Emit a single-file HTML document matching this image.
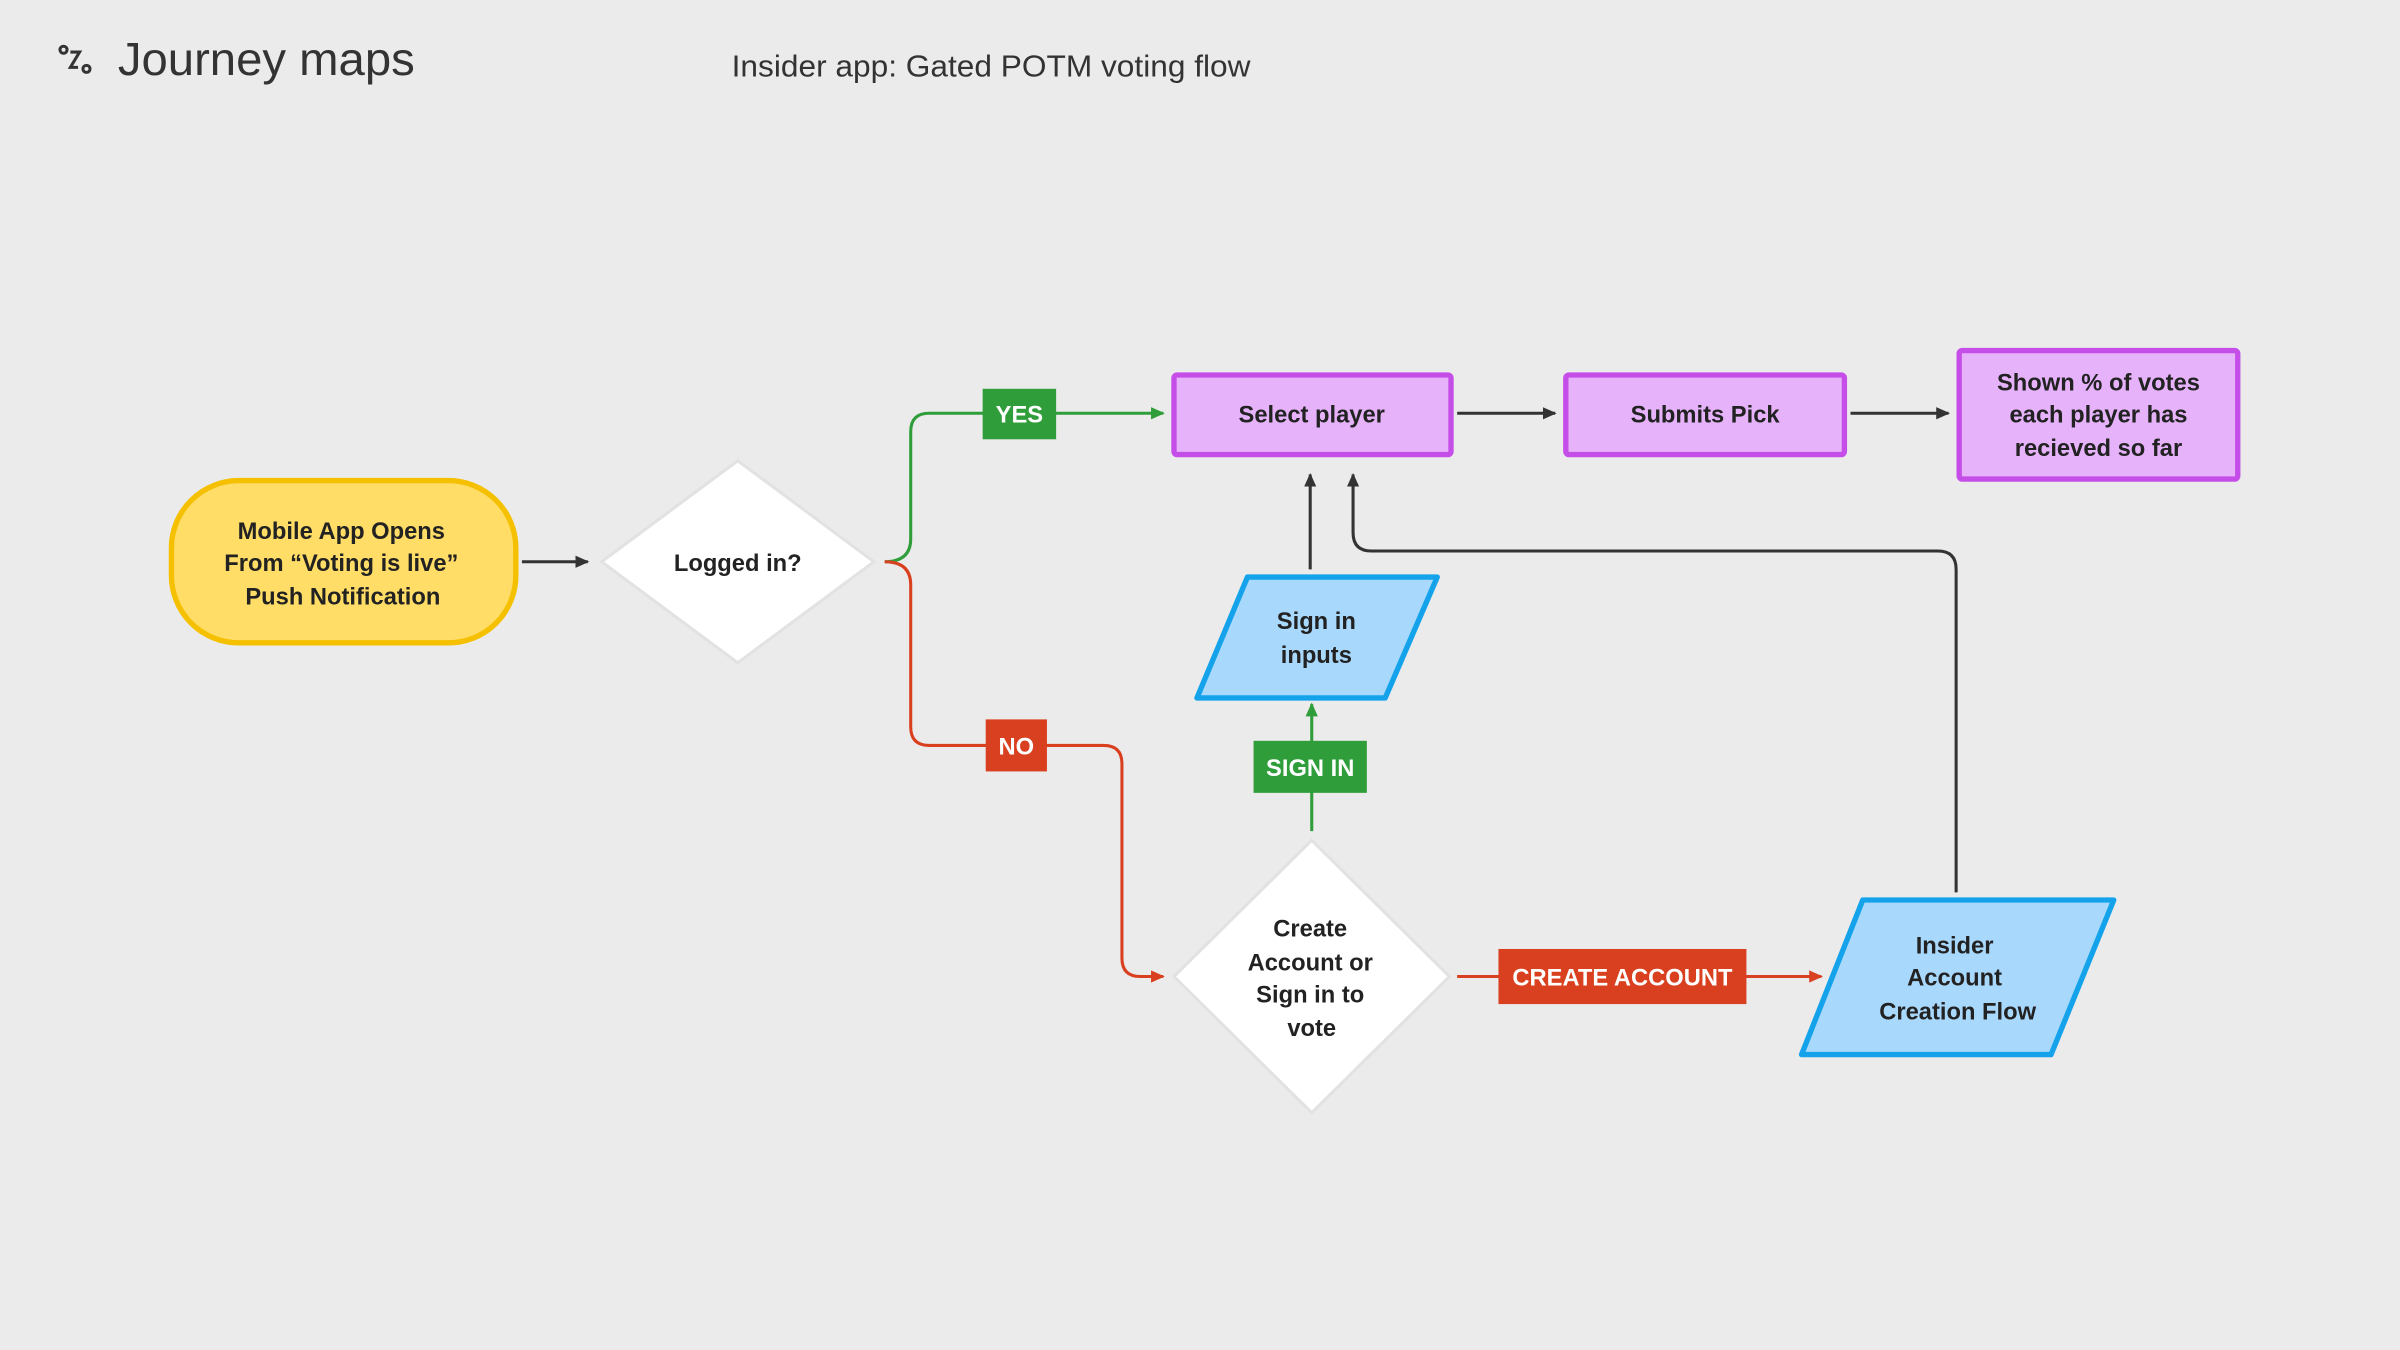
<!DOCTYPE html>
<html><head><meta charset="utf-8"><style>
html,body{margin:0;padding:0;background:#ebebeb;}
svg{display:block;}
text{font-family:"Liberation Sans",sans-serif;}
.b{font-weight:bold;font-size:15.5px;fill:#222;text-anchor:middle;}
.l{font-weight:bold;font-size:15.5px;fill:#fff;text-anchor:middle;}
</style></head><body>
<svg width="2400" height="1350" viewBox="0 0 1568 882" xmlns="http://www.w3.org/2000/svg">
<defs>
<marker id="ad" markerWidth="10" markerHeight="10" refX="8" refY="5" orient="auto" markerUnits="userSpaceOnUse"><path d="M0,1 L9,5 L0,9 z" fill="#333"/></marker>
<marker id="ag" markerWidth="10" markerHeight="10" refX="8" refY="5" orient="auto" markerUnits="userSpaceOnUse"><path d="M0,1 L9,5 L0,9 z" fill="#2f9e3a"/></marker>
<marker id="ar" markerWidth="10" markerHeight="10" refX="8" refY="5" orient="auto" markerUnits="userSpaceOnUse"><path d="M0,1 L9,5 L0,9 z" fill="#d9401f"/></marker>
</defs>
<rect width="1568" height="882" fill="#ebebeb"/>
<!-- header -->
<g fill="none" stroke="#333" stroke-width="2">
<circle cx="41.5" cy="32.5" r="2.3"/>
<circle cx="56.5" cy="45" r="2.3"/>
<path d="M46,34 H52 L46,44 H51"/>
</g>
<text x="77" y="49" font-size="30" fill="#333" textLength="194" lengthAdjust="spacingAndGlyphs">Journey maps</text>
<text x="478" y="50" font-size="20" fill="#333" textLength="339" lengthAdjust="spacingAndGlyphs">Insider app: Gated POTM voting flow</text>

<!-- connectors -->
<g fill="none" stroke-width="2">
<path d="M341,367 H384" stroke="#333" marker-end="url(#ad)"/>
<path d="M578,367 Q595,367 595,352 V282 Q595,270 607,270 H760" stroke="#2f9e3a" marker-end="url(#ag)"/>
<path d="M578,367 Q595,367 595,382 V475 Q595,487 607,487 H721 Q733,487 733,499 V626 Q733,638 745,638 H760" stroke="#d9401f" marker-end="url(#ar)"/>
<path d="M952,270 H1016" stroke="#333" marker-end="url(#ad)"/>
<path d="M1209,270 H1273" stroke="#333" marker-end="url(#ad)"/>
<path d="M856,372 V310" stroke="#333" marker-end="url(#ad)"/>
<path d="M1278,583 V372 Q1278,360 1266,360 H896 Q884,360 884,348 V310" stroke="#333" marker-end="url(#ad)"/>
<path d="M857,543 V460" stroke="#2f9e3a" marker-end="url(#ag)"/>
<path d="M952,638 H1190" stroke="#d9401f" marker-end="url(#ar)"/>
</g>

<!-- labels -->
<rect x="642" y="254" width="48" height="33" fill="#2f9e3a"/>
<text class="l" x="666" y="276">YES</text>
<rect x="644" y="470" width="40" height="34" fill="#d9401f"/>
<text class="l" x="664" y="493">NO</text>
<rect x="819" y="484" width="74" height="34" fill="#2f9e3a"/>
<text class="l" x="856" y="507">SIGN IN</text>
<rect x="979" y="620" width="162" height="36" fill="#d9401f"/>
<text class="l" x="1060" y="644">CREATE ACCOUNT</text>

<!-- start pill -->
<rect x="112" y="314" width="225" height="106" rx="44" fill="#ffdd66" stroke="#f5c000" stroke-width="3.5"/>
<text class="b" x="223" y="352">Mobile App Opens</text>
<text class="b" x="223" y="373">From “Voting is live”</text>
<text class="b" x="224" y="395">Push Notification</text>

<!-- diamonds -->
<path d="M482,301 L571,367 L482,433 L393,367 Z" fill="#fff" stroke="#e2e2e2" stroke-width="2"/>
<text class="b" x="482" y="373">Logged in?</text>
<path d="M857,549 L947,638 L857,727 L767,638 Z" fill="#fff" stroke="#e2e2e2" stroke-width="2"/>
<text class="b" x="856" y="612">Create</text>
<text class="b" x="856" y="634">Account or</text>
<text class="b" x="856" y="655">Sign in to</text>
<text class="b" x="857" y="677">vote</text>

<!-- purple boxes -->
<g fill="#e6b3fb" stroke="#c54ee8" stroke-width="3.5">
<rect x="767" y="245" width="181" height="52" rx="2"/>
<rect x="1023" y="245" width="182" height="52" rx="2"/>
<rect x="1280" y="229" width="182" height="84" rx="2"/>
</g>
<text class="b" x="857" y="276">Select player</text>
<text class="b" x="1114" y="276">Submits Pick</text>
<text class="b" x="1371" y="255">Shown % of votes</text>
<text class="b" x="1371" y="276">each player has</text>
<text class="b" x="1371" y="298">recieved so far</text>

<!-- parallelograms -->
<g fill="#a8d8fb" stroke="#14a3eb" stroke-width="3.5" stroke-linejoin="round">
<path d="M815,377 H939 L905,456 H782 Z"/>
<path d="M1217,588 H1381 L1340,689 H1177 Z"/>
</g>
<text class="b" x="860" y="411">Sign in</text>
<text class="b" x="860" y="433">inputs</text>
<text class="b" x="1277" y="623">Insider</text>
<text class="b" x="1277" y="644">Account</text>
<text class="b" x="1279" y="666">Creation Flow</text>
</svg>
</body></html>
